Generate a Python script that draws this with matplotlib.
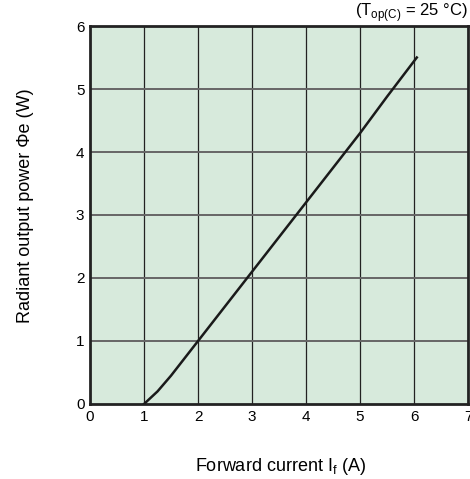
import numpy as np
import matplotlib.pyplot as plt

plt.rcParams['font.family'] = ['Liberation Sans', 'DejaVu Sans']

# Forward current vs radiant output power
current = [1.0, 1.25, 1.5, 2.0, 2.5, 3.0, 3.5, 4.0, 4.5, 5.0, 5.5, 6.05]
power = [0.0, 0.2, 0.45, 1.0, 1.55, 2.1, 2.65, 3.2, 3.75, 4.3, 4.88, 5.5]

fig = plt.figure(figsize=(4.7, 4.79), dpi=100)
ax = fig.add_axes([0.1915, 0.1566, 0.8045, 0.7891])
ax.set_facecolor('#d7eadc')

ax.plot(current, power, color='#1a1a1a', linewidth=1.8, zorder=3)

ax.set_xlim(0, 7)
ax.set_ylim(0, 6)
ax.set_xticks(range(0, 8))
ax.set_yticks(range(0, 7))
ax.tick_params(length=0, labelsize=11, pad=4)

for x in range(1, 7):
    ax.axvline(x, color='#222222', linewidth=0.9, zorder=1)
for y in range(1, 6):
    ax.axhline(y, color='#666666', linewidth=1.4, zorder=1)

for s in ax.spines.values():
    s.set_linewidth(2)
    s.set_color('#222222')

fig.text(0.596, 0.027, 'Forward current I$_\\mathregular{f}$ (A)', fontsize=13,
         ha='center', va='center')
fig.text(0.055, 0.57, 'Radiant output power \u03a6e (W)', fontsize=13,
         ha='center', va='center', rotation=90)
ax.text(0.998, 1.006, '(T$_\\mathregular{op(C)}$ = 25 \u00b0C)', transform=ax.transAxes,
        ha='right', va='bottom', fontsize=12)

fig.savefig('out.png', dpi=100)
